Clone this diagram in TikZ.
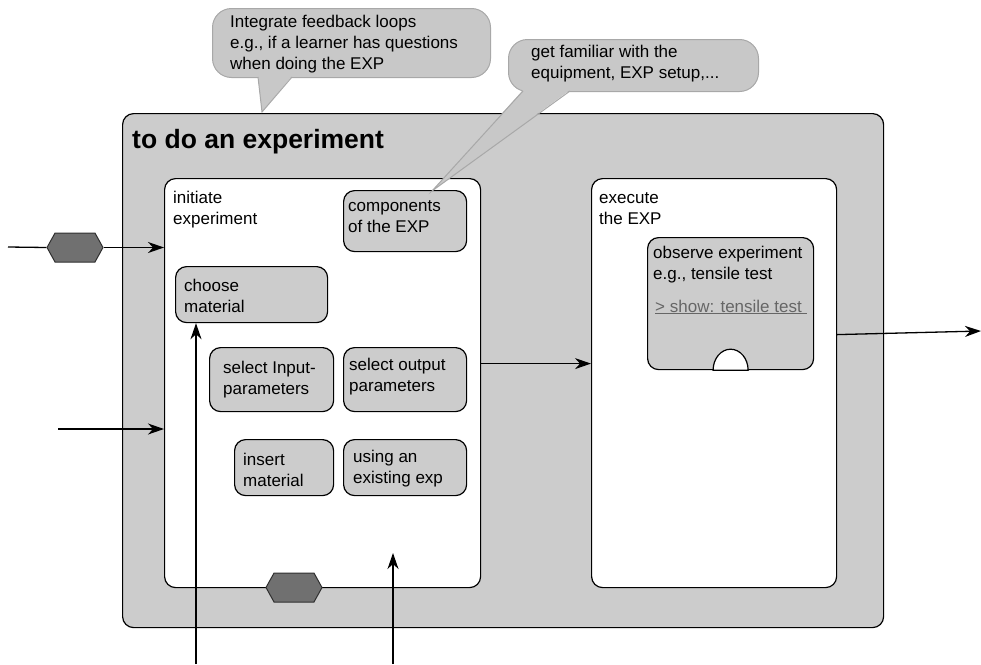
\documentclass[tikz,border=0pt]{standalone}
\usepackage{fontspec}
\setmainfont{Liberation Sans}
\usetikzlibrary{arrows.meta,shapes.symbols}
\definecolor{boxgray}{HTML}{CCCCCC}
\definecolor{bubblegray}{HTML}{C8C8C8}
\definecolor{bubbleline}{HTML}{A8A8A8}
\definecolor{hexgray}{HTML}{707070}
\definecolor{hexline}{HTML}{303030}
\definecolor{linkgray}{HTML}{666666}
\tikzset{frame/.style={draw, line width=1.2pt, rounded corners=11pt, anchor=north west, inner sep=0pt},
  panel/.style={frame, fill=white}, task/.style={frame, fill=boxgray},
  txt/.style={anchor=north west, inner sep=0pt, align=left, font=\fontsize{17}{21}\selectfont},
  hexa/.style={signal, signal to=east and west, signal pointer angle=122, draw=hexline, fill=hexgray, line width=1pt, minimum width=56pt, minimum height=29pt, inner sep=0pt},
  bubble/.style={draw=bubbleline, fill=bubblegray, line width=1pt, rounded corners=19pt, anchor=north west, inner sep=0pt},
  arr/.style={line width=1.3pt, -{Stealth[length=16pt,width=11pt,inset=5pt]}}}
\begin{document}
\begin{tikzpicture}[x=1pt, y=-1pt]
      \useasboundingbox (0,0) rectangle (981,664);
      % boxes
      \node [task, minimum width=761pt, minimum height=514pt] (outer) at (122,113) {};
      \node [anchor=base west, inner sep=0pt, font=\bfseries\fontsize{26.5}{30}\selectfont] (title) at (132,148) {to do an experiment};
      \node [panel, minimum width=316pt, minimum height=409pt] (init) at (164,178) {};
      \node [panel, minimum width=245pt, minimum height=409pt] (exec) at (591,178) {};
      \node [task, minimum width=123pt, minimum height=61pt] (comp) at (343,190) {};
      \node [task, minimum width=152pt, minimum height=56pt] (choose) at (175,266) {};
      \node [task, minimum width=124pt, minimum height=64pt] (inpar) at (209,347) {};
      \node [task, minimum width=123pt, minimum height=64pt] (outpar) at (343,347) {};
      \node [task, minimum width=99pt, minimum height=56pt] (insert) at (234,439) {};
      \node [task, minimum width=123pt, minimum height=56pt] (usexp) at (343,439) {};
      \node [task, minimum width=166pt, minimum height=132pt] (obs) at (647,237) {};
      \draw [line width=1.2pt, fill=white] ([xshift=-17.5pt]obs.south) arc [start angle=180, end angle=0, x radius=17.5pt, y radius=21pt] -- cycle;
      % texts
      \node [txt] (init-t) at (173,188.3) {\strut initiate\\experiment};
      \node [txt] (exec-t) at (599,188.3) {\strut execute\\the EXP};
      \node [txt] (comp-t) at (348,196.3) {\strut components\\of the EXP};
      \node [txt] (choose-t) at (184,276.3) {\strut choose\\material};
      \node [txt] (inpar-t) at (223,358.3) {\strut select Input-\\parameters};
      \node [txt] (outpar-t) at (349,355.3) {\strut select output\\parameters};
      \node [txt] (insert-t) at (243,450.3) {\strut insert\\material};
      \node [txt] (usexp-t) at (353,447.3) {\strut using an\\existing exp};
      \node [txt] (obs-t) at (653,243.3) {\strut observe experiment\\e.g., tensile test};
      \node [txt, anchor=base west, text=linkgray] (show) at (655,312) {\underline{> show: tensile test\ }};
      % flows
      \coordinate (src1) at (8,247);
      \node [hexa] (hex1) at (75,247.5) {};
      \draw [line width=1.3pt] (src1) -- (hex1.west);
      \draw [arr] (hex1.east) -- (hex1.east -| init.west);
      \coordinate (src2) at (58,429);
      \draw [arr] (src2) -- (src2 -| init.west);
      \coordinate (src3) at (196,664);
      \draw [arr] (src3) -- (src3 |- choose.south);
      \coordinate (src4) at (393,664);
      \coordinate (end4) at (393,553);
      \draw [arr] (src4) -- (end4);
      \draw [arr] ([yshift=19.5pt]init.east) -- ([yshift=19.5pt]exec.west);
      \coordinate (out) at (981,331);
      \draw [arr] ([yshift=48.5pt]exec.east) -- (out);
      \node [hexa] (hex2) at (294,587.5) {};
      % callouts
      \node [bubble, minimum width=278pt, minimum height=69pt] (fb) at (212,8) {};
      \fill [bubblegray] (258,76) -- (262,112) -- (292,76) -- cycle;
      \draw [bubbleline, line width=1pt] (258,77) -- (262,112) -- (292,77);
      \node [txt] (fb-t) at (230,12.3) {\strut Integrate feedback loops\\e.g., if a learner has questions\\when doing the EXP};
      \node [bubble, minimum width=250pt, minimum height=52pt] (eq) at (508,39) {};
      \fill [bubblegray] (523,90) -- (432,191) -- (570,90) -- cycle;
      \draw [bubbleline, line width=1pt] (523,91) -- (432,191) -- (570,91);
      \node [txt] (eq-t) at (531,42.3) {\strut get familiar with the\\equipment, EXP setup,...};
    \end{tikzpicture}
\end{document}
